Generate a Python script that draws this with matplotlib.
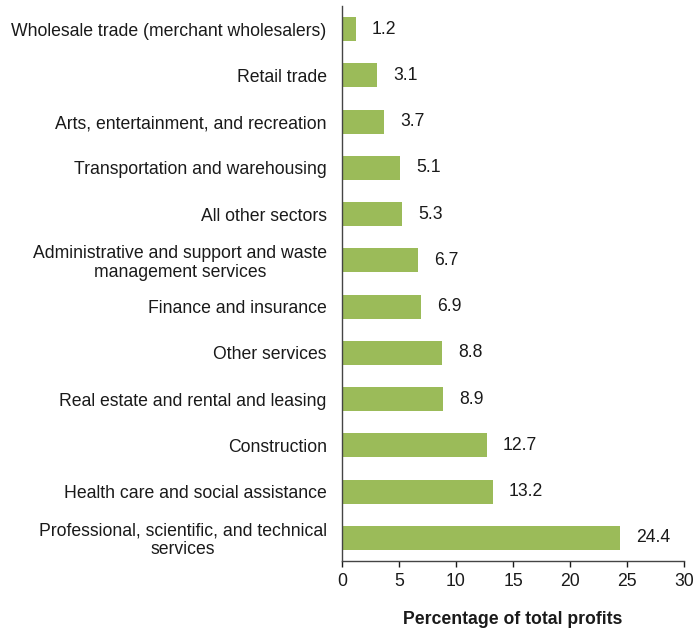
import matplotlib.pyplot as plt

plt.rcParams['font.family'] = ['Liberation Sans', 'DejaVu Sans']

sectors = ['Wholesale trade (merchant wholesalers)',
           'Retail trade',
           'Arts, entertainment, and recreation',
           'Transportation and warehousing',
           'All other sectors',
           'Administrative and support and waste\nmanagement services',
           'Finance and insurance',
           'Other services',
           'Real estate and rental and leasing',
           'Construction',
           'Health care and social assistance',
           'Professional, scientific, and technical\nservices']
shares = [1.2, 3.1, 3.7, 5.1, 5.3, 6.7, 6.9, 8.8, 8.9, 12.7, 13.2, 24.4]
x_ticks = [0, 5, 10, 15, 20, 25, 30]

fig = plt.figure(figsize=(6.96, 6.28), dpi=100)
ax = fig.add_axes([0.4914, 0.1067, 0.4914, 0.8837])

fs = 12.7
pos = list(range(len(sectors)))
ax.barh(pos, shares, height=0.52, color='#9BBB59')
for p, v in zip(pos, shares):
    ax.annotate(f'{v:.1f}', (v, p), xytext=(11.5, 0), textcoords='offset points',
                va='center', ha='left', fontsize=fs, color='#1a1a1a')

ax.set_ylim(len(sectors) - 0.5, -0.5)
ax.set_xlim(0, 30)
ax.set_xticks(x_ticks)
ax.set_yticks(pos)
ax.set_yticklabels(sectors, fontsize=fs, color='#1a1a1a', linespacing=1.1,
                   multialignment='center')
ax.tick_params(axis='y', length=0, pad=11)
ax.tick_params(axis='x', direction='out', length=4, width=1, labelsize=fs,
               colors='#1a1a1a', pad=5)
for s in ['top', 'right']:
    ax.spines[s].set_visible(False)
for s in ['left', 'bottom']:
    ax.spines[s].set_color('#444444')
    ax.spines[s].set_linewidth(1)

ax.set_xlabel('Percentage of total profits', fontsize=fs, fontweight='bold',
              labelpad=15, color='#1a1a1a')

fig.savefig('out.png', dpi=100)
